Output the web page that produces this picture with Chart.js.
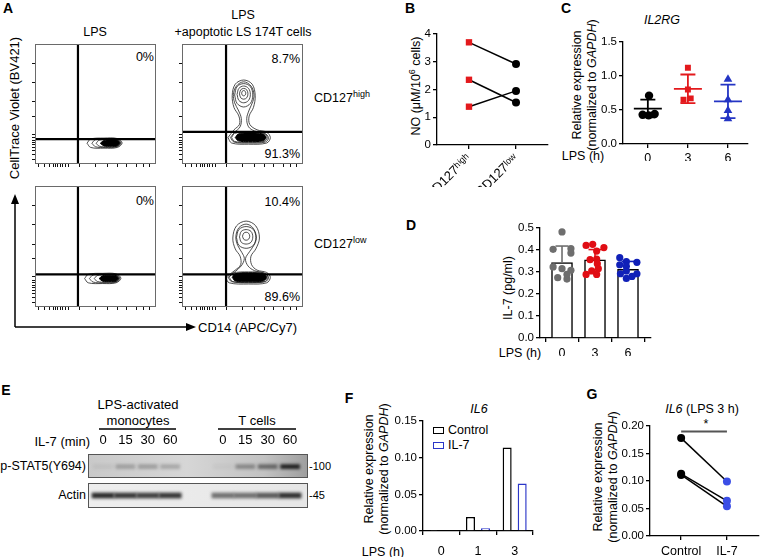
<!DOCTYPE html>
<html>
<head>
<meta charset="utf-8">
<script src="https://cdn.jsdelivr.net/npm/chart.js@4.4.1/dist/chart.umd.min.js"></script>
<style>
body { margin: 0; background: #fff; }
#fig { position: relative; width: 763px; height: 557px; overflow: hidden; font-family: "Liberation Sans", Arial, sans-serif; color: #000; font-size: 12.5px; }
canvas { position: absolute; }
.t { position: absolute; white-space: nowrap; line-height: 1; }
.c { transform: translate(-50%, -50%); }
.r { transform: translate(-100%, -50%); }
.l { transform: translateY(-50%); }
.v { transform: translate(-50%, -50%) rotate(-90deg); text-align: center; line-height: 1.2; }
.p { font-weight: bold; font-size: 14px; }
.box { position: absolute; width: 9px; height: 5px; border: 1.5px solid #000; background: #fff; }
sup { font-size: 9px; vertical-align: 5px; }
i { font-style: italic; }
</style>
</head>
<body>
<div id="fig">
  <!-- panel A text -->
  <div class="t p c" style="left:8px;top:8px">A</div>
  <div class="t c" style="left:95px;top:32px">LPS</div>
  <div class="t c" style="left:243px;top:15px">LPS</div>
  <div class="t c" style="left:243px;top:32px">+apoptotic LS 174T cells</div>
  <div class="t r" style="left:154px;top:57px">0%</div>
  <div class="t r" style="left:300px;top:59px">8.7%</div>
  <div class="t r" style="left:300px;top:154px">91.3%</div>
  <div class="t r" style="left:154px;top:201px">0%</div>
  <div class="t r" style="left:300px;top:202px">10.4%</div>
  <div class="t r" style="left:300px;top:297px">89.6%</div>
  <div class="t l" style="left:314px;top:97px">CD127<sup>high</sup></div>
  <div class="t l" style="left:314px;top:243px">CD127<sup>low</sup></div>
  <div class="t v" style="left:15px;top:108px;font-size:13px">CellTrace Violet (BV421)</div>
  <div class="t l" style="left:198px;top:327px;font-size:13px">CD14 (APC/Cy7)</div>
  <svg style="position:absolute;left:0;top:0" width="763" height="557">
    <line x1="15" y1="327" x2="15" y2="202" stroke="#000" stroke-width="1.5"/>
    <polygon points="15,194 11,204 19,204" fill="#000"/>
    <line x1="15" y1="327" x2="188" y2="327" stroke="#000" stroke-width="1.5"/>
    <polygon points="196,327 186,323 186,331" fill="#000"/>
    <line x1="99" y1="429" x2="176" y2="429" stroke="#000" stroke-width="1.5"/>
    <line x1="218" y1="429" x2="296" y2="429" stroke="#000" stroke-width="1.5"/>
  </svg>

  <!-- panel B text -->
  <div class="t p c" style="left:410px;top:8px">B</div>
  <div class="t v" style="left:415px;top:86px">NO (μM/10<sup>6</sup> cells)</div>

  <!-- panel C text -->
  <div class="t p c" style="left:566px;top:8px">C</div>
  <div class="t c" style="left:662px;top:20px"><i>IL2RG</i></div>
  <div class="t v" style="left:585px;top:85px">Relative expression<br>(normalized to <i>GAPDH</i>)</div>
  <div class="t c" style="left:583px;top:156px">LPS (h)</div>

  <!-- panel D text -->
  <div class="t p c" style="left:411px;top:225px">D</div>
  <div class="t v" style="left:508px;top:288px">IL-7 (pg/ml)</div>
  <div class="t c" style="left:520px;top:353px">LPS (h)</div>

  <!-- panel E text -->
  <div class="t p c" style="left:6px;top:390px">E</div>
  <div class="t c" style="left:138px;top:404px;font-size:13px">LPS-activated</div>
  <div class="t c" style="left:138px;top:420px;font-size:13px">monocytes</div>
  <div class="t c" style="left:257px;top:420px;font-size:13px">T cells</div>
  <div class="t r" style="left:90px;top:441px;font-size:13px">IL-7 (min)</div>
  <div class="t r" style="left:86px;top:466px;font-size:12.5px">p-STAT5(Y694)</div>
  <div class="t r" style="left:86px;top:495px;font-size:12.5px">Actin</div>
  <div class="t l" style="left:309px;top:466px;font-size:11px">-100</div>
  <div class="t l" style="left:309px;top:495px;font-size:11px">-45</div>

  <!-- panel F text -->
  <div class="t p c" style="left:349px;top:398px">F</div>
  <div class="t c" style="left:479px;top:409px"><i>IL6</i></div>
  <div class="t v" style="left:377px;top:469px">Relative expression<br>(normalized to <i>GAPDH</i>)</div>
  <div class="t c" style="left:383px;top:552px">LPS (h)</div>
  <div class="box" style="left:433px;top:427px"></div>
  <div class="t l" style="left:448px;top:430px">Control</div>
  <div class="box" style="left:433px;top:442px;border-color:#2b36c8"></div>
  <div class="t l" style="left:448px;top:445px">IL-7</div>

  <!-- panel G text -->
  <div class="t p c" style="left:592px;top:394px">G</div>
  <div class="t c" style="left:702px;top:409px"><i>IL6</i> (LPS 3 h)</div>
  <div class="t v" style="left:606px;top:477px">Relative expression<br>(normalized to <i>GAPDH</i>)</div>
  <div class="t c" style="left:706px;top:424px">*</div>
</div>

<script>
// ---------- data ----------
// A: flow plots, axes in 0-100 display units
var flowXTicks = [3, 8, 12, 15, 17, 19, 21, 23, 25, 28, 37, 50, 60, 68, 76, 84, 90, 95];
var flowYTicks = [4, 8, 11, 14, 16, 18, 20, 22, 25, 40, 52, 68, 84];
var tlGate = [35.5, 20.7];
var trGate = [36.4, 26.7];
var blGate = [35.5, 27];
var brGate = [36.4, 27];

var tlRings = [
    [[43,17.3],[46,20.8],[57,21.6],[68,21.2],[72,17.5],[68,13.8],[57,13.2],[46,13.8],[43,17.3]],
    [[47,17.3],[50,20.3],[58,21],[68,20.6],[71,17.5],[68,14.4],[58,13.8],[50,14.4],[47,17.3]],
    [[50.5,17.3],[53,19.8],[60,20.5],[68,20.1],[70.5,17.5],[68,14.9],[60,14.3],[53,14.9],[50.5,17.3]]
];
var tlCore = [[54,17.3],[57,19.6],[63,20.1],[68,19.7],[70,17.5],[68,15.2],[63,14.8],[57,15.1],[54,17.3]];

var blRings = [
    [[41,23.5],[44,27],[56,27.8],[67,27.4],[71,23.7],[67,20],[56,19.4],[44,20],[41,23.5]],
    [[45,23.5],[48,26.5],[57,27.2],[67,26.8],[70,23.7],[67,20.6],[57,20],[48,20.6],[45,23.5]],
    [[49,23.5],[51.5,26],[59,26.7],[67,26.3],[69.5,23.7],[67,21.1],[59,20.5],[51.5,21.1],[49,23.5]]
];
var blCore = [[53,23.5],[56,25.8],[62,26.3],[67,25.9],[69,23.7],[67,21.4],[62,21],[56,21.3],[53,23.5]];

var trRings = [
    [[38,22],[41,17.5],[55,16.5],[70,17.5],[73,22],[70,26.5],[62,28.5],[56,33],[55.5,40],[59,47],[60.5,57],[58,66.5],[51,70],[44,66.5],[41.5,57],[43,47],[47,40],[47.5,33],[43,28.5],[38,22]],
    [[40,22],[43,18.3],[55,17.5],[69,18.3],[71.5,22],[68,25.8],[60,27.5],[55,31],[53.5,38],[55.5,45],[58.5,52],[59.5,58],[57,65],[51,68.5],[45,65],[42.5,58],[43.5,51],[46.5,45],[49,38],[48,31],[43,26],[40,22]],
    [[43.5,57.5],[45.5,64.5],[51,67],[56.5,64.5],[58.5,57.5],[56.5,50.5],[51,47.5],[45.5,50.5],[43.5,57.5]],
    [[45.5,58],[47,63],[51,65],[55,63],[56.5,58],[55,53],[51,51],[47,53],[45.5,58]],
    [[47.5,58.5],[48.5,61.8],[51,63],[53.5,61.8],[54.5,58.5],[53.5,55.2],[51,54],[48.5,55.2],[47.5,58.5]],
    [[49.3,59],[49.8,60.6],[51,61.2],[52.2,60.6],[52.7,59],[52.2,57.4],[51,56.8],[49.8,57.4],[49.3,59]],
    [[41,22],[43.5,25.5],[55,26.5],[68,25.5],[70.5,22],[68,18.8],[55,18],[43.5,18.8],[41,22]]
];
var trCore = [[44,22],[46.5,25],[55,25.8],[67,25],[69.5,22],[67,19.3],[55,18.7],[46.5,19.3],[44,22]];

var brRings = [
    [[36,24.5],[39,20],[55,19],[70,20],[73,24.5],[70,28.5],[62,30.5],[57.5,35],[57,42],[61,48],[64,57],[61,67],[53,71],[45,67],[42,57],[44,48],[48,42],[48.5,35],[44,30.5],[36,24.5]],
    [[38,24.5],[41,21],[55,20],[69,21],[71.5,24.5],[68,28],[60,30],[54.5,34],[52.5,40],[56,46],[60,52],[61.5,58],[58.5,65.5],[53,68.5],[47,65.5],[44.5,58],[46,51],[49.5,45],[51.5,40],[49,34],[43,28.5],[38,24.5]],
    [[45,57.5],[47,64],[53,66.5],[59,64],[61,57.5],[59,51],[53,48.5],[47,51],[45,57.5]],
    [[47.5,58],[49,62.5],[53,64],[57,62.5],[58.5,58],[57,53.5],[53,52],[49,53.5],[47.5,58]],
    [[50,58.5],[51,61],[53,61.8],[55,61],[56,58.5],[55,56],[53,55.2],[51,56],[50,58.5]],
    [[39,24.5],[42,28],[55,29],[68,28],[71,24.5],[68,21],[55,20.3],[42,21],[39,24.5]]
];
var brCore = [[41.5,24.5],[44,27.5],[55,28.3],[67,27.5],[70,24.5],[67,21.5],[55,20.9],[44,21.5],[41.5,24.5]];

// B: NO, paired
var bCats = ['CD127ʰⁱᵍʰ', 'CD127ˡᵒʷ'];
var bHigh = [3.7, 2.35, 1.38];
var bLow = [2.92, 1.53, 1.95];

// C: IL2RG
var cCats = ['0', '3', '6'];
var c0h = [0.71, 0.43, 0.42, 0.44];
var c3h = [1.12, 0.80, 0.65, 0.67];
var c6h = [0.95, 0.65, 0.49, 0.37];
var c0hJitter = [0.03, -0.13, 0.02, 0.17];
var c3hJitter = [0, 0, -0.11, 0.07];
var c6hJitter = [0, 0, 0, 0];
var cMean = [0.52, 0.81, 0.625];
var cSD = [0.13, 0.21, 0.245];

// D: IL-7 protein
var dCats = ['0', '3', '6'];
var dMean = [0.343, 0.355, 0.312];
var dSD = [0.075, 0.047, 0.036];
var d0h = [0.482, 0.403, 0.406, 0.386, 0.323, 0.315, 0.308, 0.274, 0.268, 0.289];
var d3h = [0.421, 0.426, 0.411, 0.395, 0.356, 0.359, 0.338, 0.315, 0.289, 0.289, 0.305];
var d6h = [0.365, 0.347, 0.344, 0.333, 0.326, 0.305, 0.292, 0.292, 0.271, 0.280];
var d0hJitter = [0, -0.27, 0.27, 0.27, -0.27, 0, 0.27, -0.13, 0.15, 0.15];
var d3hJitter = [-0.27, -0.07, 0.27, 0.05, -0.15, 0.05, 0.07, 0.1, -0.27, 0.05, -0.1];
var d6hJitter = [-0.25, -0.05, 0.27, -0.25, -0.05, -0.05, -0.23, 0.27, -0.05, 0.12];

// E: western blot band intensities
var eLaneX = [0, 1, 2, 3, 5.35, 6.35, 7.35, 8.35];
var eLaneLabels = ['0', '15', '30', '60', '0', '15', '30', '60'];
var eStat5 = [0.06, 0.24, 0.26, 0.22, 0.03, 0.34, 0.5, 0.9];
var eActin = [0.88, 0.82, 0.78, 0.82, 0.55, 0.55, 0.65, 0.85];
var eStat5Band = [0.39, 0.56];
var eActinBand = [0.4, 0.6];

// F: IL6
var fCats = ['0', '1', '3'];
var fControl = [0.0008, 0.019, 0.1137];
var fIL7 = [0.001, 0.0036, 0.0648];

// G: IL6 (LPS 3 h), paired
var gCats = ['Control', 'IL-7'];
var gControl = [0.178, 0.113, 0.111];
var gIL7 = [0.099, 0.064, 0.054];
var gSig = 0.19;

// ---------- setup ----------
var RED = '#e3191c';
var BLUE = '#2435c4';
Chart.defaults.font.family = '"Liberation Sans", Arial, sans-serif';
Chart.defaults.font.size = 11.5;
Chart.defaults.color = '#000';
Chart.defaults.animation = false;
Chart.defaults.plugins.legend.display = false;
Chart.defaults.plugins.tooltip.enabled = false;

function makeCanvas(id, left, top, width, height) {
    var c = document.createElement('canvas');
    c.id = id;
    c.width = width;
    c.height = height;
    c.style.left = left + 'px';
    c.style.top = top + 'px';
    c.style.width = width + 'px';
    c.style.height = height + 'px';
    document.getElementById('fig').appendChild(c);
    return c;
}

function pts(arr) {
    return arr.map(function (p) { return { x: p[0], y: p[1] }; });
}

// draws a background (optional gradient), optional blur on marks, and a frame round the plot area
var framePlugin = {
    id: 'frame',
    beforeDatasetsDraw: function (chart, args, opts) {
        var a = chart.chartArea, ctx = chart.ctx;
        if (opts.stops) {
            var g = ctx.createLinearGradient(a.left, 0, a.right, 0);
            opts.stops.forEach(function (s) { g.addColorStop(s[0], s[1]); });
            ctx.fillStyle = g;
            ctx.fillRect(a.left, a.top, a.right - a.left, a.bottom - a.top);
        }
        if (opts.blur) {
            ctx.save();
            ctx.filter = 'blur(' + opts.blur + 'px)';
        }
    },
    afterDatasetsDraw: function (chart, args, opts) {
        var a = chart.chartArea, ctx = chart.ctx;
        if (opts.blur) ctx.restore();
        ctx.save();
        ctx.strokeStyle = opts.color || '#000';
        ctx.lineWidth = 1;
        ctx.strokeRect(a.left + 0.5, a.top + 0.5, a.right - a.left - 1, a.bottom - a.top - 1);
        ctx.restore();
    }
};

function axisStyle() {
    return {
        border: { color: '#000', width: 1.3 },
        grid: { drawOnChartArea: false, color: '#000', lineWidth: 1.3, tickLength: 4 }
    };
}

// ---------- A: flow cytometry contour plots ----------
function flowChart(id, box, gate, rings, core) {
    var cv = makeCanvas(id, box[0] - 6, box[1] - 1, box[2] + 7, box[3] + 7);
    var ds = [];
    ds.push({ data: [{ x: gate[0], y: 0 }, { x: gate[0], y: 100 }], showLine: true, borderColor: '#000', borderWidth: 2.2, pointRadius: 0 });
    ds.push({ data: [{ x: 0, y: gate[1] }, { x: 100, y: gate[1] }], showLine: true, borderColor: '#000', borderWidth: 2.2, pointRadius: 0 });
    ds.push({ data: pts(core), showLine: true, borderColor: '#000', backgroundColor: '#000', borderWidth: 1, pointRadius: 0, tension: 0.35, fill: 'shape' });
    rings.forEach(function (r) {
        ds.push({ data: pts(r), showLine: true, borderColor: '#222', borderWidth: 0.8, pointRadius: 0, tension: 0.35, fill: false });
    });
    new Chart(cv, {
        type: 'scatter',
        data: { datasets: ds },
        options: {
            responsive: false,
            layout: { padding: { top: 1, right: 1, left: 0, bottom: 0 } },
            scales: {
                x: {
                    min: 0, max: 100,
                    afterFit: function (s) { s.height = 6; },
                    afterBuildTicks: function (s) { s.ticks = flowXTicks.map(function (v) { return { value: v }; }); },
                    ticks: { display: false },
                    grid: { drawOnChartArea: false, tickLength: 3, color: '#111', lineWidth: 1 },
                    border: { display: false }
                },
                y: {
                    min: 0, max: 100,
                    afterFit: function (s) { s.width = 6; },
                    afterBuildTicks: function (s) { s.ticks = flowYTicks.map(function (v) { return { value: v }; }); },
                    ticks: { display: false },
                    grid: { drawOnChartArea: false, tickLength: 3, color: '#111', lineWidth: 1 },
                    border: { display: false }
                }
            },
            plugins: { frame: { color: '#6a6a6a' } }
        },
        plugins: [framePlugin]
    });
}

flowChart('flowTL', [35, 44, 121, 120], tlGate, tlRings, tlCore);
flowChart('flowTR', [182, 44, 121, 120], trGate, trRings, trCore);
flowChart('flowBL', [35, 186, 121, 121], blGate, blRings, blCore);
flowChart('flowBR', [182, 186, 121, 121], brGate, brRings, brCore);

// ---------- B: NO ----------
(function () {
    var a = axisStyle();
    new Chart(makeCanvas('chartB', 400, 22, 162, 165), {
        type: 'scatter',
        data: {
            datasets: bHigh.map(function (v, i) {
                return {
                    data: [{ x: 0, y: v }, { x: 1, y: bLow[i] }],
                    showLine: true, borderColor: '#000', borderWidth: 1.5,
                    pointStyle: ['rect', 'circle'], pointRadius: [4.5, 4],
                    pointBackgroundColor: [RED, '#000'], pointBorderColor: [RED, '#000'], pointBorderWidth: 0
                };
            })
        },
        options: {
            responsive: false,
            layout: { padding: { top: 12, right: 14, left: 0, bottom: 0 } },
            scales: {
                x: {
                    type: 'linear', min: -0.68, max: 1.68,
                    afterFit: function (s) { s.height = 42; },
                    afterBuildTicks: function (s) { s.ticks = [{ value: 0 }, { value: 1 }]; },
                    ticks: { callback: function (v) { return bCats[v]; }, minRotation: 45, maxRotation: 45, autoSkip: false, font: { size: 13 }, padding: 2 },
                    grid: a.grid, border: a.border
                },
                y: {
                    min: 0, max: 4,
                    afterFit: function (s) { s.width = 37; },
                    ticks: { stepSize: 1, padding: 2, font: { size: 11.5 } },
                    grid: a.grid, border: a.border
                }
            }
        }
    });
})();

// ---------- C: IL2RG ----------
(function () {
    var a = axisStyle();
    var cols = ['#000', RED, BLUE];
    var shapes = ['circle', 'rect', 'triangle'];
    var groups = [c0h, c3h, c6h];
    var jit = [c0hJitter, c3hJitter, c6hJitter];
    var ds = [];
    groups.forEach(function (g, i) {
        ds.push({
            data: g.map(function (v, k) { return { x: i + jit[i][k], y: v }; }),
            pointStyle: shapes[i], pointRadius: i === 2 ? 5 : 4.2,
            pointBackgroundColor: cols[i], pointBorderColor: cols[i], pointBorderWidth: 0, order: 1
        });
        ds.push({
            data: [{ x: i, y: cMean[i] - cSD[i] }, { x: i, y: cMean[i] + cSD[i] }],
            showLine: true, borderColor: cols[i], borderWidth: 1.8,
            pointStyle: 'line', pointRadius: 7.5, pointBorderColor: cols[i], pointBorderWidth: 1.8, order: 0
        });
        ds.push({
            data: [{ x: i, y: cMean[i] }],
            pointStyle: 'line', pointRadius: 14, pointBorderColor: cols[i], pointBorderWidth: 1.8, order: 0
        });
    });
    new Chart(makeCanvas('chartC', 600, 26, 163, 135), {
        type: 'scatter',
        data: { datasets: ds },
        options: {
            responsive: false,
            layout: { padding: { top: 8, right: 10, left: 0, bottom: 0 } },
            scales: {
                x: {
                    type: 'linear', min: -0.62, max: 2.48,
                    afterFit: function (s) { s.height = 17; },
                    afterBuildTicks: function (s) { s.ticks = [0, 1, 2].map(function (v) { return { value: v }; }); },
                    ticks: { callback: function (v) { return cCats[v]; }, font: { size: 12.5 }, padding: 3, maxRotation: 0 },
                    grid: a.grid, border: a.border
                },
                y: {
                    min: 0, max: 1.5,
                    afterFit: function (s) { s.width = 23; },
                    ticks: { stepSize: 0.5, padding: 2, callback: function (v) { return v.toFixed(1); } },
                    grid: a.grid, border: a.border
                }
            }
        }
    });
})();

// ---------- D: IL-7 ----------
(function () {
    var a = axisStyle();
    var cols = ['#6e6e6e', '#e00d14', '#1020b8'];
    var groups = [d0h, d3h, d6h];
    var jit = [d0hJitter, d3hJitter, d6hJitter];
    var ds = [{
        type: 'bar',
        data: dMean.map(function (m, i) { return { x: i, y: m }; }),
        backgroundColor: '#fff', borderColor: '#000', borderWidth: 1.5, barThickness: 21, order: 3
    }];
    groups.forEach(function (g, i) {
        ds.push({
            type: 'scatter',
            data: g.map(function (v, k) { return { x: i + jit[i][k], y: v }; }),
            pointRadius: 3.6, pointBackgroundColor: cols[i], pointBorderColor: cols[i], pointBorderWidth: 0, order: 1
        });
        ds.push({
            type: 'scatter',
            data: [{ x: i, y: dMean[i] }, { x: i, y: dMean[i] + dSD[i] }],
            showLine: true, borderColor: cols[i], borderWidth: 1.6,
            pointStyle: 'line', pointRadius: [0, 6.5], pointBorderColor: cols[i], pointBorderWidth: 1.6, order: 0
        });
    });
    new Chart(makeCanvas('chartD', 500, 218, 160, 138), {
        type: 'bar',
        data: { datasets: ds },
        options: {
            responsive: false,
            layout: { padding: { top: 10, right: 9, left: 0, bottom: 0 } },
            scales: {
                x: {
                    type: 'linear', min: -0.667, max: 2.697, offset: false,
                    afterFit: function (s) { s.height = 18; },
                    afterBuildTicks: function (s) { s.ticks = [0, 1, 2].map(function (v) { return { value: v }; }); },
                    ticks: { callback: function (v) { return dCats[v]; }, font: { size: 12.5 }, padding: 4, maxRotation: 0 },
                    grid: a.grid, border: a.border
                },
                y: {
                    min: 0, max: 0.5,
                    afterFit: function (s) { s.width = 40; },
                    ticks: { stepSize: 0.1, padding: 2, callback: function (v) { return v.toFixed(1); } },
                    grid: a.grid, border: a.border
                }
            }
        }
    });
})();

// ---------- E: western blot ----------
function blot(id, top, height, values, band, thickness, stops, showLabels) {
    var axisH = showLabels ? 30 : 0;
    var cv = makeCanvas(id, 88, top - axisH, 220, height + axisH);
    new Chart(cv, {
        type: 'bar',
        data: {
            datasets: [{
                data: values.map(function (v, i) { return { x: eLaneX[i], y: band }; }),
                backgroundColor: values.map(function (v) { return 'rgba(15,15,15,' + v + ')'; }),
                barThickness: thickness, borderWidth: 0
            }]
        },
        options: {
            responsive: false,
            layout: { padding: 0 },
            scales: {
                x: {
                    type: 'linear', position: 'top', min: -0.67, max: 9.15, offset: false,
                    display: showLabels,
                    afterFit: function (s) { s.height = axisH; },
                    afterBuildTicks: function (s) { s.ticks = eLaneX.map(function (v) { return { value: v }; }); },
                    ticks: { callback: function (v, i) { return eLaneLabels[i]; }, font: { size: 13 }, padding: 6, autoSkip: false, maxRotation: 0 },
                    grid: { display: false, drawTicks: false },
                    border: { display: false }
                },
                y: { min: 0, max: 1, display: false }
            },
            plugins: { frame: { color: '#555', stops: stops, blur: 1.4 } }
        },
        plugins: [framePlugin]
    });
}
blot('blotStat5', 454, 24, eStat5, eStat5Band, 19,
    [[0, '#c9c9c9'], [0.45, '#d6d6d6'], [0.8, '#c2c2c2'], [1, '#9e9e9e']], true);
blot('blotActin', 483, 25, eActin, eActinBand, 22,
    [[0, '#eeeeee'], [1, '#e6e6e6']], false);

// ---------- F: IL6 ----------
(function () {
    var a = axisStyle();
    new Chart(makeCanvas('chartF', 380, 400, 165, 157), {
        type: 'bar',
        data: {
            labels: fCats,
            datasets: [
                { label: 'Control', data: fControl, backgroundColor: '#fff', borderColor: '#000', borderWidth: 1.5 },
                { label: 'IL-7', data: fIL7, backgroundColor: '#fff', borderColor: '#2b36c8', borderWidth: 1.5 }
            ]
        },
        options: {
            responsive: false,
            layout: { padding: { top: 21, right: 12, left: 0, bottom: 0 } },
            datasets: { bar: { categoryPercentage: 0.82, barPercentage: 0.6 } },
            scales: {
                x: {
                    afterFit: function (s) { s.height = 26; },
                    ticks: { font: { size: 12.5 }, padding: 9 },
                    grid: a.grid, border: a.border
                },
                y: {
                    min: 0, max: 0.15,
                    afterFit: function (s) { s.width = 43; },
                    ticks: { stepSize: 0.05, padding: 2, callback: function (v) { return v.toFixed(2); } },
                    grid: a.grid, border: a.border
                }
            }
        }
    });
})();

// ---------- G: IL6 (LPS 3 h) ----------
(function () {
    var a = axisStyle();
    var ds = [{
        data: [{ x: 0, y: gSig }, { x: 1, y: gSig }],
        showLine: true, borderColor: '#555', borderWidth: 2, pointRadius: 0
    }];
    gControl.forEach(function (c, i) {
        ds.push({
            data: [{ x: 0, y: c }, { x: 1, y: gIL7[i] }],
            showLine: true, borderColor: '#000', borderWidth: 1.5,
            pointRadius: 4, pointBackgroundColor: ['#000', '#3b4ee6'], pointBorderColor: ['#000', '#3b4ee6'], pointBorderWidth: 0
        });
    });
    new Chart(makeCanvas('chartG', 615, 416, 148, 141), {
        type: 'scatter',
        data: { datasets: ds },
        options: {
            responsive: false,
            layout: { padding: { top: 10, right: 1, left: 0, bottom: 0 } },
            scales: {
                x: {
                    type: 'linear', min: -0.68, max: 1.70,
                    afterFit: function (s) { s.height = 21; },
                    afterBuildTicks: function (s) { s.ticks = [{ value: 0 }, { value: 1 }]; },
                    ticks: { callback: function (v) { return gCats[v]; }, font: { size: 12.5 }, padding: 4, maxRotation: 0 },
                    grid: a.grid, border: a.border
                },
                y: {
                    min: 0, max: 0.2,
                    afterFit: function (s) { s.width = 35; },
                    ticks: { stepSize: 0.05, padding: 2, callback: function (v) { return v.toFixed(2); } },
                    grid: a.grid, border: a.border
                }
            }
        }
    });
})();
</script>
</body>
</html>
